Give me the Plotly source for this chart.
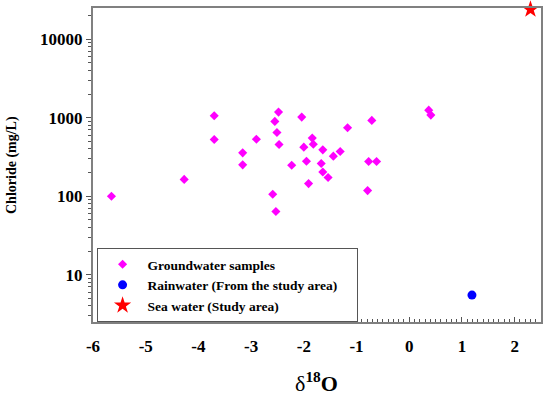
import plotly.graph_objects as go

# Groundwater samples
gw_d18o = [-5.65, -4.27, -3.70, -3.70, -3.16, -3.16, -2.90, -2.59, -2.53, -2.48, -2.55,
           -2.51, -2.47, -2.04, -1.84, -1.82, -2.00, -1.64, -2.23, -1.95, -1.67, -1.64,
           -1.54, -1.91, -1.44, -1.31, -1.17, -0.71, -0.77, -0.62, -0.79, 0.37, 0.41]
gw_cl = [100, 164, 1062, 528, 357, 251, 533, 106, 64, 1180, 898,
         649, 456, 1019, 550, 460, 422, 390, 248, 279, 261, 204,
         173, 145, 324, 372, 745, 925, 277, 277, 118, 1250, 1080]

rain_d18o = [1.19]
rain_cl = [5.5]

sea_d18o = [2.3]
sea_cl = [24000]

x_major = [-6, -5, -4, -3, -2, -1, 0, 1, 2]
x_labels = [str(v) for v in x_major]
y_major = [10, 100, 1000, 10000]
y_labels = [str(v) for v in y_major]
y_minor = [m * 10 ** e for e in range(0, 5) for m in range(2, 10)]
y_minor = [v for v in y_minor if 2.5 <= v <= 25000]

FONT = "Liberation Serif"

fig = go.Figure()
fig.add_trace(go.Scatter(x=gw_d18o, y=gw_cl, mode="markers", name="Groundwater samples",
                         marker=dict(symbol="diamond", color="#FF00FF", size=7)))
fig.add_trace(go.Scatter(x=rain_d18o, y=rain_cl, mode="markers",
                         name="Rainwater (From the study area)\u00a0\u00a0\u00a0\u00a0",
                         marker=dict(symbol="circle", color="#0000FF", size=9)))
fig.add_trace(go.Scatter(x=sea_d18o, y=sea_cl, mode="markers", name="Sea water (Study area)",
                         marker=dict(symbol="star", color="#FF0000", size=13), cliponaxis=False))

fig.update_layout(
    width=550, height=397,
    margin=dict(l=93, r=9, t=8, b=75, autoexpand=False),
    paper_bgcolor="white", plot_bgcolor="white",
    font=dict(family=FONT, color="black"),
    showlegend=True,
    legend=dict(x=0.008, y=0, xanchor="left", yanchor="bottom",
                bordercolor="#555555", borderwidth=1, bgcolor="white",
                font=dict(family=FONT, size=13.5, weight="bold"),
                itemwidth=40, tracegroupgap=0),
    xaxis=dict(range=[-6, 2.5], tickvals=x_major, ticktext=x_labels, automargin=False,
               showgrid=False, zeroline=False,
               showline=True, mirror=True, linecolor="#808080", linewidth=2,
               ticks="inside", ticklen=5, tickcolor="#555555",
               minor=dict(dtick=0.1, tick0=0, ticks="inside", ticklen=3, tickcolor="#555555"),
               tickfont=dict(family=FONT, size=17, weight="bold"),
               ticklabelstandoff=8),
    yaxis=dict(type="log", range=[0.398, 4.398], tickvals=y_major, ticktext=y_labels, automargin=False,
               showgrid=False, zeroline=False,
               showline=True, mirror=True, linecolor="#808080", linewidth=2,
               ticks="outside", ticklen=5, tickcolor="#555555",
               minor=dict(tickvals=y_minor, ticks="outside", ticklen=3, tickcolor="#555555"),
               tickfont=dict(family=FONT, size=17, weight="bold")),
    annotations=[
        dict(text="δ<b><sup>18</sup>O</b>", xref="paper", yref="paper",
             x=(316 - 93) / 448, y=-(382 - 322) / 314, xanchor="center", yanchor="middle",
             showarrow=False, font=dict(family=FONT, size=22)),
        dict(text="<b>Chloride (mg/L)</b>", xref="paper", yref="paper", textangle=-90,
             x=-(93 - 12) / 448, y=(322 - 165) / 314, xanchor="center", yanchor="middle",
             showarrow=False, font=dict(family=FONT, size=14)),
    ],
)

fig.write_html("out.html", config={"displayModeBar": False},
               post_script="document.body.style.margin='0px';")
